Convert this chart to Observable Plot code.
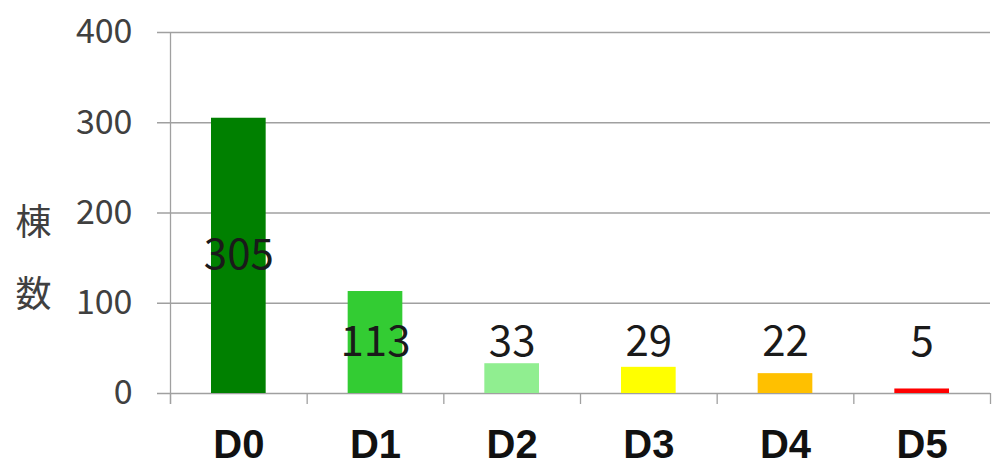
<!DOCTYPE html>
<html>
<head>
<meta charset="utf-8">
<script src="https://cdn.jsdelivr.net/npm/d3@7"></script>
<script src="https://cdn.jsdelivr.net/npm/@observablehq/plot@0.6"></script>
<style>
  html, body { margin: 0; padding: 0; background: #fff; }
  #chart svg { display: block; }
</style>
</head>
<body>
<div id="chart"></div>
<script>
const categories = ["D0", "D1", "D2", "D3", "D4", "D5"];
const values = [305, 113, 33, 29, 22, 5];
const colors = ["#008000", "#33cc33", "#90ee90", "#ffff00", "#ffc000", "#ff0000"];
const yTicks = [0, 100, 200, 300, 400];
const yLabel = "棟\n数";

const data = categories.map((c, i) => ({ i, category: c, value: values[i], color: colors[i] }));
const boundaries = d3.range(categories.length + 1).map(k => k - 0.5);

const chart = Plot.plot({
  width: 994,
  height: 466,
  marginLeft: 170,
  marginRight: 4,
  marginTop: 32,
  marginBottom: 73,
  style: { background: "#fff", fontFamily: "'Noto Sans CJK JP', sans-serif" },
  x: { domain: [-0.5, categories.length - 0.5] },
  y: { domain: [0, 400] },
  marks: [
    Plot.ruleY(yTicks, { stroke: "#a0a0a0", strokeWidth: 1.3, insetLeft: -13 }),
    Plot.ruleX(boundaries, { y1: 0, y2: 0, insetBottom: -11, stroke: "#a0a0a0", strokeWidth: 1.3 }),
    Plot.ruleX([boundaries[0]], { y1: 400, y2: 0, insetBottom: -11, stroke: "#a0a0a0", strokeWidth: 1.3 }),
    Plot.rectY(data, { x1: d => d.i - 0.2, x2: d => d.i + 0.2, y: "value", fill: "color" }),
    Plot.text(data, {
      x: "i",
      y: d => Math.max(d.value / 2, 57),
      text: d => String(d.value),
      fontSize: 42,
      fill: "#1a1a1a",
      fontFamily: "'Noto Sans CJK JP', sans-serif"
    }),
    Plot.axisY(yTicks, { tickSize: 0, tickPadding: 38, fontSize: 34, label: null, color: "#404040" }),
    Plot.axisX(data.map(d => d.i), {
      tickSize: 0,
      tickPadding: 36,
      tickFormat: i => categories[i],
      fontSize: 40,
      fontWeight: "bold",
      fontFamily: "'Liberation Sans', Arial, sans-serif",
      label: null,
      color: "#111"
    }),
    Plot.text([yLabel], {
      frameAnchor: "left",
      dx: -137,
      dy: 35,
      text: d => d,
      fontSize: 36,
      lineHeight: 2,
      textAnchor: "middle",
      fill: "#404040"
    })
  ]
});
document.getElementById("chart").append(chart);
</script>
</body>
</html>
